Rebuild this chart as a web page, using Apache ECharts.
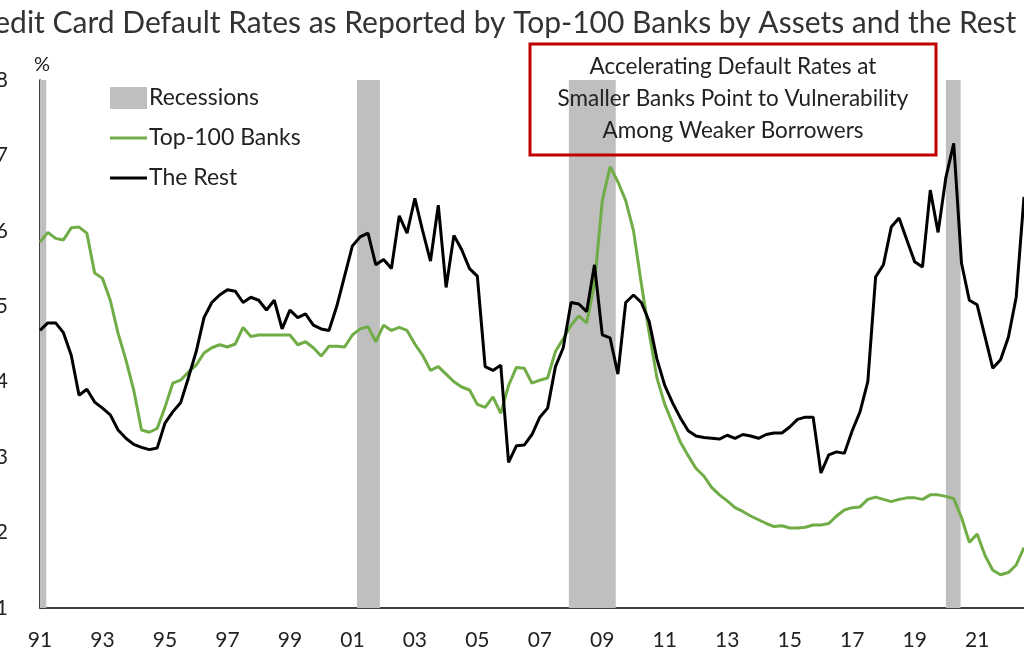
<!DOCTYPE html>
<html><head><meta charset="utf-8">
<script src="https://cdn.jsdelivr.net/npm/echarts@6/dist/echarts.min.js"></script>
<style>html,body{margin:0;padding:0;background:#fff}#c{width:1024px;height:666px}</style>
</head><body><div id="c"></div>
<script>
const startYear = 1991; // quarterly data, first point 1991 Q1
const theRest = [
4.68,4.78,4.78,4.65, 4.35,3.82,3.9,3.73, 3.65,3.56,3.36,3.25, 3.17,3.13,3.1,3.12,
3.45,3.6,3.72,4.05, 4.4,4.85,5.05,5.15, 5.22,5.2,5.05,5.12, 5.08,4.95,5.08,4.7,
4.95,4.85,4.9,4.75, 4.7,4.68,5.0,5.4,
5.8,5.92,5.97,5.55, 5.62,5.5,6.2,5.97, 6.43,6.0,5.6,6.34, 5.25,5.94,5.75,5.5,
5.4,4.2,4.15,4.22, 2.93,3.15,3.16,3.3, 3.53,
3.65,4.2,4.45,5.05, 5.03,4.93,5.55,4.62, 4.58,4.1,5.05,5.15, 5.05,4.8,4.3,3.95,
3.72,3.52,3.35,3.28, 3.26,3.25,3.24,3.29, 3.25,3.3,3.28,3.25, 3.3,3.32,
3.32,3.4,3.5,3.53, 3.53,2.79,3.03,3.07, 3.05,3.35,3.6,4.0, 5.39,5.55,6.05,6.17,
5.88,5.59,5.52,6.54, 5.98,6.71,7.16,5.57, 5.08,5.02,4.6,4.18, 4.29,4.59,5.12,6.45
];
const top100 = [
5.85,5.98,5.9,5.88, 6.04,6.05,5.97,5.44, 5.37,5.08,4.64,4.29, 3.89,3.36,3.33,3.38,
3.66,3.98,4.02,4.13, 4.22,4.38,4.45,4.49, 4.46,4.5,4.72,4.6, 4.62,4.62,4.62,4.62,
4.62,4.49,4.53,4.45, 4.34,4.47,4.47,4.46,
4.62,4.7,4.73,4.53, 4.75,4.68,4.72,4.68, 4.5,4.35,4.15,4.2, 4.1,4.0,3.93,3.89,
3.7,3.66,3.8,3.58, 3.95,4.19,4.18,3.98, 4.02,
4.05,4.4,4.57,4.75, 4.87,4.78,5.3,6.4, 6.85,6.65,6.4,6.0, 5.3,4.65,4.05,3.7,
3.45,3.2,3.02,2.85, 2.75,2.6,2.5,2.42, 2.33,2.28,2.22,2.17, 2.12,2.08,
2.09,2.06,2.06,2.07, 2.1,2.1,2.12,2.22, 2.3,2.33,2.34,2.44, 2.47,2.44,2.41,2.44,
2.46,2.46,2.44,2.5, 2.5,2.48,2.45,2.2, 1.87,1.98,1.7,1.5, 1.44,1.47,1.57,1.8
];
const recessions = [[1990.6,1991.2],[2001.15,2001.88],[2007.93,2009.43],[2020.0,2020.47]];
const yTicks = [1,2,3,4,5,6,7,8];
const titleText = 'Credit Card Default Rates as Reported by Top-100 Banks by Assets and the Rest';
const noteLines = ['Accelerating Default Rates at','Smaller Banks Point to Vulnerability','Among Weaker Borrowers'];

const toPairs = arr => arr.map((v,i)=>[startYear + i/4, v]);
const F = 'Lato, "Noto Sans", sans-serif';
const chart = echarts.init(document.getElementById('c'));
chart.setOption({
  animation:false,
  grid:{left:40,right:0,top:80,bottom:58,containLabel:false,outerBoundsMode:'none'},
  xAxis:{type:'value',min:1991,max:2022.5,interval:2,
    axisLine:{lineStyle:{color:'#000',width:1.5}},axisTick:{show:false},splitLine:{show:false},
    axisLabel:{margin:22,fontSize:21,color:'#222',fontFamily:F,showMaxLabel:false,
      formatter:v=>Number.isInteger(v)?String(v).slice(2):''}},
  yAxis:{type:'value',min:1,max:8,interval:1,
    axisLine:{show:true,lineStyle:{color:'#000',width:1.5}},axisTick:{show:false},splitLine:{show:false},
    axisLabel:{margin:32,fontSize:21,color:'#222',fontFamily:F,formatter:v=>yTicks.includes(v)?String(v):''}},
  series:[
    {type:'line',name:'Recessions',data:[],
      markArea:{silent:true,itemStyle:{color:'#bfbfbf'},
        data:recessions.map(r=>[{xAxis:r[0],yAxis:1},{xAxis:r[1],yAxis:8}])}},
    {type:'line',name:'Top-100 Banks',data:toPairs(top100),showSymbol:false,
      lineStyle:{color:'#70ad47',width:3},z:3},
    {type:'line',name:'The Rest',data:toPairs(theRest),showSymbol:false,
      lineStyle:{color:'#000',width:3},z:4}
  ],
  graphic:[
    {type:'text',x:-36,y:8,style:{text:titleText,fontSize:30,fill:'#333',fontFamily:F}},
    {type:'text',x:34,y:55,style:{text:'%',fontSize:20,fill:'#222',fontFamily:F}},
    {type:'rect',shape:{x:110,y:87,width:37,height:22},style:{fill:'#bfbfbf'}},
    {type:'line',shape:{x1:110,y1:138,x2:147,y2:138},style:{stroke:'#70ad47',lineWidth:3}},
    {type:'line',shape:{x1:110,y1:178,x2:147,y2:178},style:{stroke:'#000',lineWidth:3}},
    {type:'text',x:149,y:98,style:{text:'Recessions',fontSize:23,fill:'#222',fontFamily:F,verticalAlign:'middle'}},
    {type:'text',x:149,y:138,style:{text:'Top-100 Banks',fontSize:23,fill:'#222',fontFamily:F,verticalAlign:'middle'}},
    {type:'text',x:149,y:178,style:{text:'The Rest',fontSize:23,fill:'#222',fontFamily:F,verticalAlign:'middle'}},
    {type:'rect',z:10,shape:{x:530,y:44,width:406,height:111},style:{fill:'rgba(255,255,255,0)',stroke:'#c00000',lineWidth:3}},
    {type:'text',z:10,x:733,y:67,style:{text:noteLines[0],fontSize:22.5,fill:'#222',fontFamily:F,align:'center',verticalAlign:'middle'}},
    {type:'text',z:10,x:733,y:99,style:{text:noteLines[1],fontSize:22.5,fill:'#222',fontFamily:F,align:'center',verticalAlign:'middle'}},
    {type:'text',z:10,x:733,y:131,style:{text:noteLines[2],fontSize:22.5,fill:'#222',fontFamily:F,align:'center',verticalAlign:'middle'}}
  ]
});
</script></body></html>
